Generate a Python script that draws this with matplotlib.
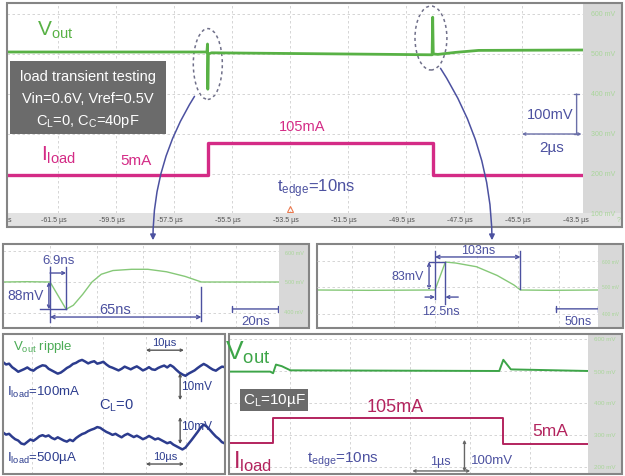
import matplotlib
matplotlib.use("Agg")
import matplotlib.pyplot as plt
from matplotlib.patches import Rectangle, Ellipse, FancyArrowPatch
from matplotlib.lines import Line2D
import matplotlib.transforms as mtransforms

plt.rcParams['font.family'] = ['Liberation Sans', 'DejaVu Sans']
plt.rcParams['mathtext.fontset'] = 'custom'
plt.rcParams['mathtext.rm'] = 'Liberation Sans'
plt.rcParams['mathtext.it'] = 'Liberation Sans:italic'

# ---- top: full load step (time in us, level in scope mV) ----
top_vout_t = [-63.25, -56.36, -56.34, -56.33, -56.31, -56.2, -50.0, -48.6, -48.58, -48.56,
              -48.4, -47.8, -47.0, -43.4]
top_vout_mv = [505, 505, 525, 412, 500, 503, 499, 498, 592, 500, 499, 504, 509, 510]
top_iload_t = [-63.2, -56.33, -56.33, -48.57, -48.57, -43.4]
top_iload_mv = [198, 198, 278, 278, 198, 198]
top_time_ticks = [-61.5, -59.5, -57.5, -55.5, -53.5, -51.5, -49.5, -47.5, -45.5, -43.5]
top_level_ticks = [600, 500, 400, 300, 200, 100]

# ---- middle left: rising load edge zoom (ns, mV) ----
ml_t = [-20.2, -10, 0, 6.9, 10, 14, 18, 22, 27, 35, 42, 50, 58, 65, 80, 98.3]
ml_mv = [500, 501, 500, 412, 425, 460, 500, 525, 537, 541, 541, 533, 518, 500, 500, 500]
ml_dip_time, ml_dip_mv, ml_settle = 6.9, 88, 65

# ---- middle right: falling load edge zoom (ns, mV) ----
mr_t = [-142, -80, 0, 12.5, 25, 50, 75, 95, 103, 140, 196]
mr_mv = [500, 499, 500, 583, 580, 569, 543, 515, 500, 499, 500]
mr_rise_time, mr_peak_mv, mr_settle = 12.5, 83, 103

# ---- bottom left: output ripple (us, mV) ----
rip_t = [0, 0.8, 1.6, 2.4, 3.2, 4.0, 4.8, 5.6, 6.4, 7.2, 8.0, 8.8, 9.6, 10.4, 11.2, 12.0, 12.8,
         13.6, 14.4, 15.2, 16.0, 16.8, 17.6, 18.4, 19.2, 20.0, 20.8, 21.6, 22.4, 23.2, 24.0,
         24.8, 25.6, 26.4, 27.2, 28.0, 28.8, 29.6, 30.4, 31.2, 32.0, 32.8, 33.6, 34.4, 35.2,
         36.0, 36.8, 37.6, 38.4, 39.2, 40.0, 40.8, 41.6, 42.4, 43.2, 44.0, 44.8, 45.6, 46.4,
         47.2, 48.0, 48.8, 49.6, 50.4, 51.2, 52.0, 52.8, 53.6, 54.4, 55.2, 56.0, 56.8, 57.6, 58.4]
rip_hi = [41.5, 40.6, 40.9, 39.6, 38.8, 37.9, 38.4, 38.9, 39.5, 38.7,
          38.3, 39.2, 39.8, 40.3, 40.1, 39.0, 38.4, 37.8, 37.2, 37.6,
          38.4, 39.3, 39.9, 40.8, 41.2, 41.9, 42.3, 41.7, 41.0, 41.5,
          41.8, 40.9, 41.2, 41.6, 40.6, 39.8, 39.4, 38.9, 38.4, 39.0,
          39.8, 39.3, 38.8, 39.4, 39.9, 39.2, 38.4, 38.9, 39.6, 38.8,
          38.6, 39.3, 39.8, 40.2, 39.5, 40.4, 39.7, 38.6, 37.6, 36.9,
          36.4, 37.2, 37.8, 38.4, 39.3, 40.1, 40.8, 40.2, 39.4, 38.7,
          38.3, 39.1, 39.8, 39.6]
rip_lo = [15.4, 14.6, 14.9, 13.8, 12.9, 12.4, 11.3, 11.0, 11.9, 12.8,
          12.3, 13.1, 14.0, 14.4, 13.9, 14.3, 13.4, 12.9, 13.6, 13.0,
          12.4, 12.0, 12.7, 12.2, 13.3, 14.1, 14.8, 15.2, 15.9, 16.4,
          16.8, 17.4, 17.1, 16.3, 15.6, 15.1, 14.5, 14.9, 14.2, 13.6,
          14.4, 14.9, 14.3, 13.7, 14.2, 13.6, 12.9, 13.4, 14.1, 13.5,
          12.8, 13.2, 12.6, 12.0, 11.4, 11.8, 10.9, 10.3, 9.7, 9.1,
          9.8, 11.2, 12.6, 14.1, 15.6, 17.2, 18.3, 17.6, 16.4, 15.1,
          13.9, 13.0, 11.8, 11.3]

# ---- bottom right: load step with 10uF output cap (us, mV) ----
br_vout_t = [-0.76, -0.05, 0.0, 0.05, 0.15, 0.3, 3.9, 3.97, 4.1, 5.43]
br_vout_mv = [498, 498, 493, 520, 515, 502, 500, 535, 505, 500]
br_iload_t = [-0.76, 0.0, 0.0, 3.97, 3.97, 5.43]
br_iload_mv = [275, 275, 353, 353, 272, 272]

W, H = 625, 477
GREEN = '#58b145'
MAGENTA = '#d42b86'
CRIMSON = '#b3245e'
BLUE = '#4c51a0'
NAVY = '#2c3c8e'
LABEL_GREEN = '#a9d69a'
STRIP = '#d8d8d8'
FRAME = '#858585'
GRID = '#cfcfcf'

fig = plt.figure(figsize=(W / 100, H / 100), dpi=100)


def rect(x0, y0, x1, y1):
    return [x0 / W, 1 - y1 / H, (x1 - x0) / W, (y1 - y0) / H]


def fp(x, y):
    return (x / W, 1 - y / H)


def ftext(x, y, s, **kw):
    kw.setdefault('ha', 'center')
    kw.setdefault('va', 'center')
    fig.text(x / W, 1 - y / H, s, **kw)


def box(x0, y0, x1, y1, **kw):
    fig.add_artist(Rectangle(fp(x0, y1), (x1 - x0) / W, (y1 - y0) / H,
                             transform=fig.transFigure, **kw))


def hline_px(x0, x1, y, **kw):
    fig.add_artist(Line2D([x0 / W, x1 / W], [1 - y / H, 1 - y / H],
                          transform=fig.transFigure, **kw))


def panel(x0, y0, x1, y1, xlim, ylim):
    ax = fig.add_axes(rect(x0, y0, x1, y1))
    ax.set_xlim(*xlim)
    ax.set_ylim(*ylim)
    ax.set_xticks([])
    ax.set_yticks([])
    for s in ax.spines.values():
        s.set_visible(False)
    ax.patch.set_alpha(0)
    return ax


def dim(ax, x0, y0, x1, y1, style='<->', lw=1.0, color=BLUE, ms=5):
    ax.annotate('', xy=(x1, y1), xytext=(x0, y0),
                arrowprops=dict(arrowstyle=style, color=color, lw=lw,
                                shrinkA=0, shrinkB=0, mutation_scale=ms),
                annotation_clip=False)


def scale_bar(ax, x0, y0, x1, y1, color=BLUE):
    ax.annotate('', xy=(x1, y1), xytext=(x0, y0),
                arrowprops=dict(arrowstyle='|-|', color=color, lw=1.0,
                                shrinkA=0, shrinkB=0, mutation_scale=2),
                annotation_clip=False)


dash = dict(color=GRID, lw=0.6, ls=(0, (3, 3)))

# ================= top panel =================
box(583, 4, 622, 214, facecolor=STRIP, edgecolor='none')
box(7, 214, 622, 228, facecolor='#e2e2e2', edgecolor='none')
ax = panel(7, 4, 583, 214, (-63.25, -43.4), (102.5, 627.5))
for t in top_time_ticks[:-1]:
    ax.axvline(t, **dash)
for v in top_level_ticks[:-1]:
    ax.axhline(v, **dash)
ax.plot(top_vout_t, top_vout_mv, color=GREEN, lw=2.0)
ax.plot(top_iload_t, top_iload_mv, color=MAGENTA, lw=2.4)
ax.plot([-53.5], [113], marker='^', ms=5, mfc='none', mec='#ec7a4f', mew=0.8, clip_on=False)

ax.add_patch(Ellipse((-56.33, 475), 1.0, 177, fill=False, ec='#70708a', lw=1.1, ls=(0, (2, 2))))
ax.add_patch(Ellipse((-48.64, 540), 1.1, 160, fill=False, ec='#70708a', lw=1.1, ls=(0, (2, 2))))

blend_y = mtransforms.blended_transform_factory(fig.transFigure, ax.transData)
for v in top_level_ticks:
    fig.text(603 / W, v, f'{v} mV', transform=blend_y, ha='center', va='center',
             fontsize=5, color=LABEL_GREEN)
blend_x = mtransforms.blended_transform_factory(ax.transData, fig.transFigure)
for t in top_time_ticks:
    fig.text(t - 0.15, 1 - 221 / H, f'{t} µs', transform=blend_x, ha='center', va='center',
             fontsize=5, color='#505050')
ftext(10, 221, 's', fontsize=5, color='#505050')
ftext(619, 221, '?', fontsize=5, color=LABEL_GREEN)
box(7, 4, 622, 228, facecolor='none', edgecolor=FRAME, lw=1.5)

ftext(55, 30, r'V$_{\rm out}$', fontsize=15, color=GREEN)
box(10, 62, 166, 135, facecolor='#6b6b6b', edgecolor='none')
ftext(88, 77, 'load transient testing', fontsize=10.5, color='white')
ftext(88, 99, 'Vin=0.6V, Vref=0.5V', fontsize=10.5, color='white')
ftext(88, 121, r'C$_{\rm L}$=0, C$_{\rm C}$=40pF', fontsize=10.5, color='white')
ftext(58, 155, r'I$_{\rm load}$', fontsize=15, color=MAGENTA)
ftext(136, 161, '5mA', fontsize=11, color=MAGENTA)
ftext(302, 127, '105mA', fontsize=10.5, color=MAGENTA)
ftext(316, 189, r't$_{\rm edge}$=10ns', fontsize=12, color=BLUE)

dim(ax, -43.62, 400, -43.62, 300, style='|-|', ms=2, color='#6a6fa8')
dim(ax, -45.5, 300, -43.45, 300, style='<->', ms=4, color='#6a6fa8')
ftext(550, 115, '100mV', fontsize=10.5, color=BLUE)
ftext(552, 148, '2µs', fontsize=11, color=BLUE)

# arrows from the marked edges down to the zoomed views
fig.add_artist(FancyArrowPatch(fp(196, 95), fp(153, 244), transform=fig.transFigure,
                               connectionstyle='arc3,rad=0.15', arrowstyle='-|>',
                               mutation_scale=8, color=BLUE, lw=1.1))
fig.add_artist(FancyArrowPatch(fp(439, 67), fp(492, 244), transform=fig.transFigure,
                               connectionstyle='arc3,rad=-0.15', arrowstyle='-|>',
                               mutation_scale=8, color=BLUE, lw=1.1))

# ================= middle left =================
box(279, 245, 309, 329, facecolor=STRIP, edgecolor='none')
ax = panel(3, 245, 279, 329, (-20.2, 98.3), (351.6, 622.6))
for t in [0, 20, 40, 60, 80]:
    ax.axvline(t, **dash)
for v in [600, 500, 400]:
    ax.axhline(v, **dash)
ax.plot(ml_t, ml_mv, color='#86c878', lw=1.0)
for y, s in [(254, '600 mV'), (283, '500 mV'), (313, '400 mV')]:
    ftext(294, y, s, fontsize=4, color=LABEL_GREEN)
box(3, 245, 309, 329, facecolor='none', edgecolor=FRAME, lw=1.5)

base = 500
low = base - ml_dip_mv
ax.plot([0, 0], [548, 371], color=BLUE, lw=1.0)
ax.plot([ml_dip_time] * 2, [548, low], color=BLUE, lw=1.0)
dim(ax, 0, 529, ml_dip_time, 529, style='->', ms=5)
dim(ax, -0.5, base, -0.5, low, ms=5)
ax.plot([-4.3, ml_dip_time], [low, low], color=BLUE, lw=1.0)
dim(ax, 0, 387, ml_settle, 387, ms=6)
ax.plot([ml_settle] * 2, [484, 374], color=BLUE, lw=1.0)
scale_bar(ax, 78.3, 413, 98.0, 413)
ftext(59, 261, f'{ml_dip_time}ns', fontsize=9.5, color=BLUE)
ftext(26, 296, f'{ml_dip_mv}mV', fontsize=10, color=BLUE)
ftext(115, 310, f'{ml_settle}ns', fontsize=10.5, color=BLUE)
ftext(256, 322, '20ns', fontsize=9.5, color=BLUE)

# ================= middle right =================
box(598, 245, 623, 329, facecolor=STRIP, edgecolor='none')
ax = panel(317, 245, 598, 329, (-142.2, 196.4), (387.2, 636.5))
for t in [-100, -50, 0, 50, 100, 150]:
    ax.axvline(t, **dash)
for y in [262, 288, 315]:
    hline_px(317, 598, y, **dash)
ax.plot(mr_t, mr_mv, color='#86c878', lw=1.0)
for y, s in [(262, '600 mV'), (288, '500 mV'), (315, '400 mV')]:
    ftext(611, y, s, fontsize=3.5, color=LABEL_GREEN)
box(317, 245, 623, 329, facecolor='none', edgecolor=FRAME, lw=1.5)

top = base + mr_peak_mv
dim(ax, 0, 598, mr_settle, 598, ms=6)
ax.plot([0, 0], [616, 473], color=BLUE, lw=1.0)
ax.plot([mr_settle] * 2, [616, 503], color=BLUE, lw=1.0)
dim(ax, -7.2, base, -7.2, top, ms=5)
ax.plot([-7.2, mr_rise_time], [top, top], color=BLUE, lw=1.0)
ax.plot([mr_rise_time] * 2, [top, 458], color=BLUE, lw=1.0)
dim(ax, -12, 479, 0, 479, style='->', ms=5)
dim(ax, 28, 479, mr_rise_time, 479, style='->', ms=5)
scale_bar(ax, 146, 444, 196, 444)
ftext(478, 251, f'{mr_settle}ns', fontsize=9, color=BLUE)
ftext(408, 277, f'{mr_peak_mv}mV', fontsize=9, color=BLUE)
ftext(441, 312, f'{mr_rise_time}ns', fontsize=9, color=BLUE)
ftext(578, 322, '50ns', fontsize=9, color=BLUE)

# ================= bottom left: ripple =================
ax = panel(3, 335, 225, 475, (0, 58.4), (0, 51.9))
for t in [7.6, 26.3, 37.6, 48.2]:
    ax.axvline(t, **dash)
ax.plot(rip_t, rip_hi, color=NAVY, lw=1.8)
ax.plot(rip_t, rip_lo, color=NAVY, lw=1.8)
box(3, 335, 225, 475, facecolor='none', edgecolor=FRAME, lw=1.5)

dim(ax, 37.6, 45.9, 47.6, 45.9, ms=4, color='#555')
dim(ax, 46.6, 37.4, 46.6, 27.4, ms=4, color='#555')
dim(ax, 46.6, 21.1, 46.6, 11.1, ms=4, color='#555')
dim(ax, 37.6, 3.7, 47.6, 3.7, ms=4, color='#555')
ftext(13, 347, r'V$_{\rm out}$ ripple', fontsize=9.5, color='#4bab55', ha='left')
ftext(164, 343, '10µs', fontsize=8, color=NAVY)
ftext(197, 387, '10mV', fontsize=8.5, color=NAVY)
ftext(7, 392, r'I$_{\rm load}$=100mA', fontsize=9.5, color=NAVY, ha='left')
ftext(116, 406, r'C$_{\rm L}$=0', fontsize=10.5, color=NAVY)
ftext(197, 427, '10mV', fontsize=8.5, color=NAVY)
ftext(7, 458, r'I$_{\rm load}$=500µA', fontsize=9.5, color=NAVY, ha='left')
ftext(165, 457, '10µs', fontsize=8, color=NAVY)

# ================= bottom right: 10uF load =================
box(588, 335, 622, 475, facecolor=STRIP, edgecolor='none')
ax = panel(229, 335, 588, 475, (-0.76, 5.43), (178, 615.6))
for t in [0.29, 1.33, 2.36, 3.4, 4.43]:
    ax.axvline(t, **dash)
for v in [600, 500, 400, 300, 200]:
    ax.axhline(v, **dash)
ax.plot(br_vout_t, br_vout_mv, color='#3da548', lw=1.4)
ax.plot(br_iload_t, br_iload_mv, color=CRIMSON, lw=1.4)
for y, v in zip([340, 372, 404, 436, 468], [600, 500, 400, 300, 200]):
    ftext(605, y, f'{v} mV', fontsize=4.5, color=LABEL_GREEN)
box(229, 335, 622, 475, facecolor='none', edgecolor=FRAME, lw=1.5)

ftext(248, 353, r'V$_{\rm out}$', fontsize=19, color='#3da548')
box(240, 390, 308, 412, facecolor='#6b6b6b', edgecolor='none')
ftext(274, 401, r'C$_{\rm L}$=10µF', fontsize=11, color='white')
ftext(395, 408, '105mA', fontsize=13, color=CRIMSON)
ftext(550, 432, '5mA', fontsize=12.5, color=CRIMSON)
ftext(253, 462, r'I$_{\rm load}$', fontsize=17, color=CRIMSON)
ftext(343, 460, r't$_{\rm edge}$=10ns', fontsize=11, color=BLUE)
dim(ax, 2.4, 187.5, 3.4, 187.5, ms=4, color='#666')
dim(ax, 3.3, 285, 3.3, 185, ms=4, color='#666')
ftext(440, 462, '1µs', fontsize=9, color=BLUE)
ftext(492, 461, '100mV', fontsize=9.5, color=BLUE)

fig.savefig('out.png', dpi=100)
